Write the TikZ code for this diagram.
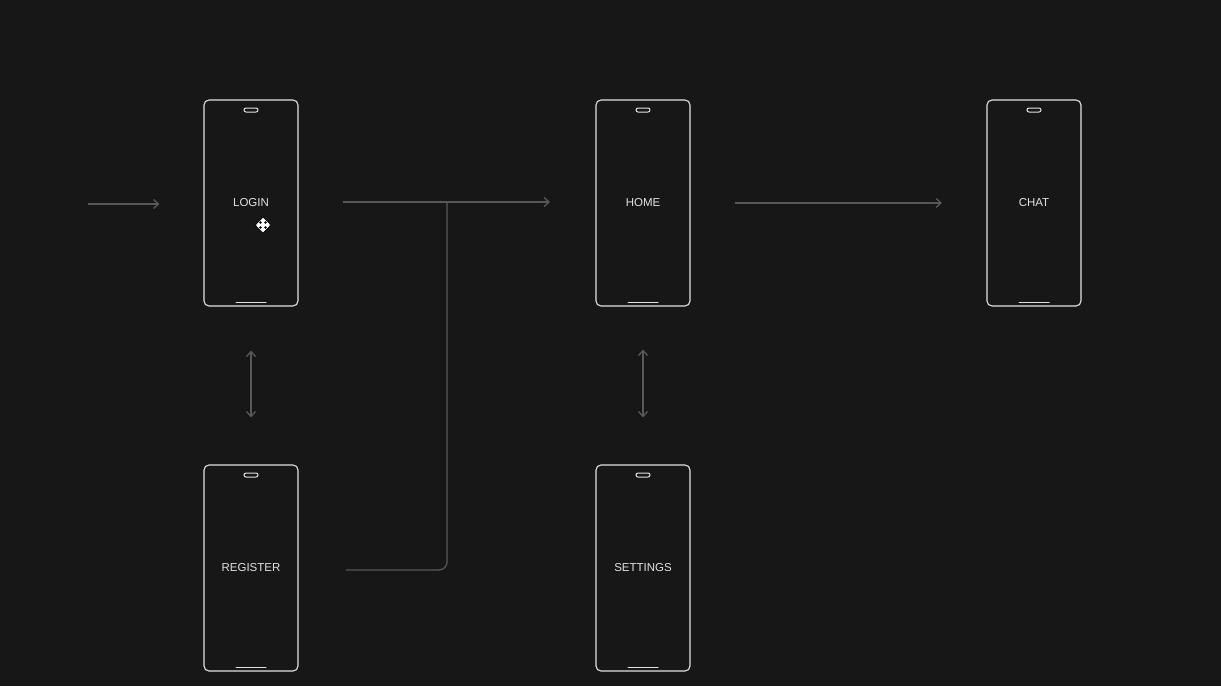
\documentclass[tikz,border=0pt]{standalone}
\usepackage{fontspec}
\setmainfont{Liberation Sans}
\usetikzlibrary{arrows.meta}
\definecolor{bg}{HTML}{171717}
\definecolor{outline}{HTML}{E2E2E2}
\definecolor{wire}{HTML}{585858}
\begin{document}
\begin{tikzpicture}[x=1pt,y=-1pt,
  phone/.style={draw=outline,line width=1.1pt,rounded corners=5pt,minimum width=94pt,minimum height=206pt,inner sep=0pt,
    text=outline,font=\fontsize{11.5}{13}\selectfont},
  detail/.style={draw=outline,line width=1pt},
  flow/.style={draw=wire,line width=1.3pt,-{Straight Barb[length=5pt,width=9pt]}},
  both/.style={draw=wire,line width=1.3pt,{Straight Barb[length=5pt,width=9pt]}-{Straight Barb[length=5pt,width=9pt]}}]
\fill[bg] (0,0) rectangle (1221,686);
\useasboundingbox (0,0) rectangle (1221,686);
\foreach \n/\x/\y/\t in {login/251/203/LOGIN, home/643/203/HOME, chat/1034/203/CHAT, register/251/568/REGISTER, settings/643/568/SETTINGS}{
  \node[phone] (\n) at (\x,\y) {\raisebox{-2pt}{\t}};
  \draw[detail,rounded corners=2pt] ([xshift=-7pt,yshift=91pt]\n.center) rectangle ([xshift=7pt,yshift=95pt]\n.center);
  \draw[detail,line cap=round] ([xshift=-15pt,yshift=4pt]\n.south) -- ([xshift=15pt,yshift=4pt]\n.south);
}
\coordinate (entry) at (88,204);
\coordinate (loginout) at (343,202);
\coordinate (homein) at (550,202);
\coordinate (joint) at (447,202);
\coordinate (regout) at (346,570);
\coordinate (corner) at (447,570);
\coordinate (homeout) at (735,203);
\coordinate (chatin) at (942,203);
\draw[flow] (entry) -- ([xshift=-44pt,yshift=-1pt]login.west);
\draw[flow] (loginout) -- (homein);
\draw[draw=wire,line width=1.3pt,rounded corners=8pt] (regout) -- (corner) -- (joint);
\draw[flow] (homeout) -- (chatin);
\draw[both] ([yshift=-44pt]login.south) -- ([yshift=47pt]register.north);
\draw[both] ([yshift=-43pt]home.south) -- ([yshift=47pt]settings.north);
% move cursor
\coordinate (cursor) at (263,225);
\draw[fill=white,draw=black,line width=0.7pt] ([yshift=-8pt]cursor) -- ([xshift=7pt,yshift=-1pt]cursor) -- ([xshift=7pt,yshift=1pt]cursor) -- ([yshift=8pt]cursor) -- ([xshift=-7pt,yshift=1pt]cursor) -- ([xshift=-7pt,yshift=-1pt]cursor) -- cycle;
\foreach \dx/\dy in {-2.5/-2.5,2.5/-2.5,-2.5/2.5,2.5/2.5} \fill[black] ([xshift=\dx pt,yshift=\dy pt]cursor) circle (1.4pt);
\end{tikzpicture}
\end{document}
